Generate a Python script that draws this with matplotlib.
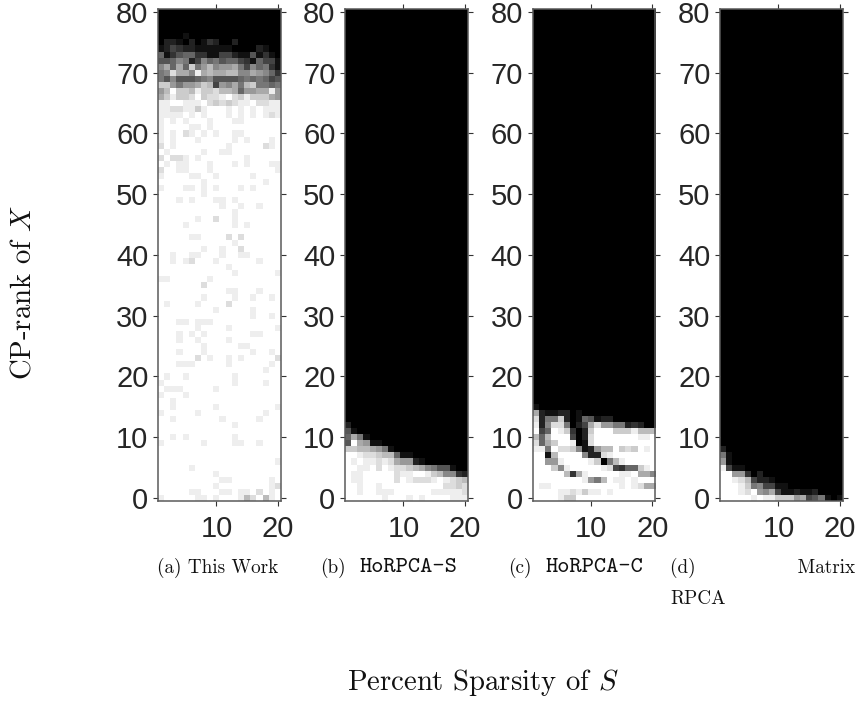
import numpy as np
import matplotlib
matplotlib.use("Agg")
import matplotlib.pyplot as plt

# Success fraction per cell, one hex digit per cell (0 black ... f white).
# Rows listed from the highest rank downward; rows above are all black.
x_ticks = [10, 20]
y_ticks = [0, 10, 20, 30, 40, 50, 60, 70, 80]

a_black_rows_above = 4
a_rows = [
    "00001000000000000000", "02210201320020000000", "12432211111100002100",
    "61356633114421151310", "55687248675664316441", "8a6a6c79b899a7486731",
    "78daa8eabaabb88a9863", "75855567855556767645", "cc9799acb498a7bc7767",
    "9bfccbeccdbba699aae9", "aceccdfcddefdceccca9", "eeffeeefdcdcdeefddee",
    "eeddeecefffefefefeee", "eeeefefefffefefefede", "efefefffefffeeffffff",
    "effffeefefffffffffff", "efefdefefeffeeffffff", "efefffefffffefefffef",
    "dfeffffffffefffffdef", "fefffffeffeeffffffff", "dfddefefffffffefffff",
    "fefeefffefffefefffee", "dffeefffeffffffffffe", "effffeeffefffffeffff",
    "fffffffefffffffffeff", "efffeefefefffefeffff", "fffffffeffffffffffff",
    "fffefefffeefefffffff", "ffffffffffeffeffefff", "ffffffffffffefffffff",
    "ffffffeffdffefffffff", "ffffefffffffefefffff", "ffffffffffffffffffff",
    "fffffeeffffdfdffffff", "ffffffffffffefffffff", "fffffffeffeffdffffff",
    "ffeffeefffeffeefffff", "ffefedfffeffffffefff", "fffffffffffeffffffff",
    "ffffffffffffeffffffe", "eeffffffefffffffffff", "fffffffdffffffffffff",
    "fffffffffffeefffefff", "fffffffeffffeffeffef", "feffffeffffdffffffff",
    "fffffffffefffffeffff", "fffffffffffffffeffef", "fffeefeeefffffffffff",
    "ffffffeffffefffffffe", "fffefefefffffffeefff", "fffeffeffffeffffffff",
    "fffffffefffffeefffff", "fffefffefffffffeffef", "ffffffdfeffefefffffd",
    "fffeeefffffeffffffef", "fffffffffffffffffeff", "feffefffffffefffffff",
    "efffffffffffeffffeff", "feeefffffeffffffffff", "efffefffffffffffffff",
    "ffefffffffffffffffff", "ffeffffffefffffffffe", "efffffeffffffffffeff",
    "ffefffffffefffffefff", "ffffffffffffefffffff", "ffffffffffffffffffff",
    "ffefefffffffefffffff", "effffffeffffeeffefff", "ffffffffffffffffffff",
    "ffffffffffffffffffff", "fffffffffffffffffffe", "fffffeffffffffffffff",
    "fffffffffeffffffffff", "ffffffffffeeffffffef", "fffffffffeffffffffed",
    "fffffeefffeefeefdfef", "efffffeefefffebdfbef",
]

b_black_rows_above = 68
b_rows = [
    "20000000000000000000", "51000000000000000000", "6a710000000000000000",
    "5fa91100000000000000", "ccbba971000000000000", "ffeddcbb611000000000",
    "fefeededa99210000000", "ffeefdfeddcba8755100", "feefffffdeeffecb8832",
    "feefffffdfedddefedcb", "ffeffeffffffffffddcd", "ffeffeeeffffffeeeeed",
    "ffffffefffefeffffeee",
]

c_black_rows_above = 65
c_rows = [
    "10000000000000000000", "a2112201000000000000", "d277c201651220000000",
    "e28dd7024ad997723200", "f46fec302cfffcccebbb", "b6bfff402dfffffffeef",
    "d6acffe01dffffffffff", "ee7fddc8129bbfcdcfef", "ff1bffff822defffffff",
    "ff99effffec07befffff", "fffc8efffffed4366cef", "fffffb3aefffffeefaa8",
    "ffffffffe97bfeefefff", "feefffffffffffefedaa", "ffffeedeceefefffffff",
    "ffffeccfffffffffffff",
]

d_black_rows_above = 72
d_rows = [
    "20000000000000000000", "71000000000000000000", "91000000000000000000",
    "e4110000000000000000", "ff993020000000000000", "ffedb422100000000000",
    "fffec784411000000000", "fffedf98a41121120000", "fffffefeeccc9a457101",
]

panels = [
    (a_rows, a_black_rows_above, 158.3),
    (b_rows, b_black_rows_above, 345.3),
    (c_rows, c_black_rows_above, 532.8),
    (d_rows, d_black_rows_above, 720.3),
]

W, H = 860, 702
plt.rcParams["mathtext.fontset"] = "cm"
plt.rcParams["axes.unicode_minus"] = False
fig = plt.figure(figsize=(W / 100, H / 100), dpi=100, facecolor="white")

AX_W, AX_TOP, AX_BOT = 122.5, 9.0, 500.7
SPINE = "#5a5a5a"
TICK_TEXT = "#262626"

for rows, above, left in panels:
    ax = fig.add_axes([left / W, 1 - AX_BOT / H, AX_W / W, (AX_BOT - AX_TOP) / H])
    parsed = [[int(c, 16) for c in r.ljust(20, "f")[:20]] for r in rows]
    grid = [[0] * 20 for _ in range(above)] + parsed
    ax.imshow(np.array(grid, dtype=float)[::-1], cmap="gray", vmin=0, vmax=15,
              origin="lower", aspect="auto", interpolation="nearest",
              extent=(0.5, 20.5, -0.5, 80.5))
    ax.set_xticks(x_ticks)
    ax.set_yticks(y_ticks)
    ax.tick_params(axis="both", direction="out", length=3.6, width=0.8, color="#333333",
                   top=True, right=True, labelsize=21, labelcolor=TICK_TEXT)
    ax.tick_params(axis="y", pad=3.5)
    ax.tick_params(axis="x", pad=7)
    for lab in ax.get_xticklabels() + ax.get_yticklabels():
        lab.set_fontfamily("Liberation Sans")
    for s in ax.spines.values():
        s.set_color(SPINE)
        s.set_linewidth(1.1)

CAP = 13.8
TT = 16.8
def txt(x, y, s, **kw):
    fam = kw.pop("family", "cmr10")
    return fig.text(x / W, 1 - y / H, s, family=fam, color="#111111", **kw)

txt(157, 568, "(a) This Work", fontsize=CAP, va="center", ha="left")
txt(320, 568, "(b)", fontsize=CAP, va="center", ha="left")
txt(360, 568, "HoRPCA-S", fontsize=TT, va="center", ha="left", family="cmtt10")
txt(508, 568, "(c)", fontsize=CAP, va="center", ha="left")
txt(546, 568, "HoRPCA-C", fontsize=TT, va="center", ha="left", family="cmtt10")
txt(670.5, 582.5, "(d)                Matrix\nRPCA", fontsize=CAP, va="center", ha="left",
    linespacing=1.87)
txt(482.5, 682, "Percent Sparsity of $S$", fontsize=20.7, va="center", ha="center")
txt(23, 292, "CP-rank of $X$", fontsize=20.7, va="center", ha="center", rotation=90)

fig.savefig("out.png", dpi=100, facecolor="white")
